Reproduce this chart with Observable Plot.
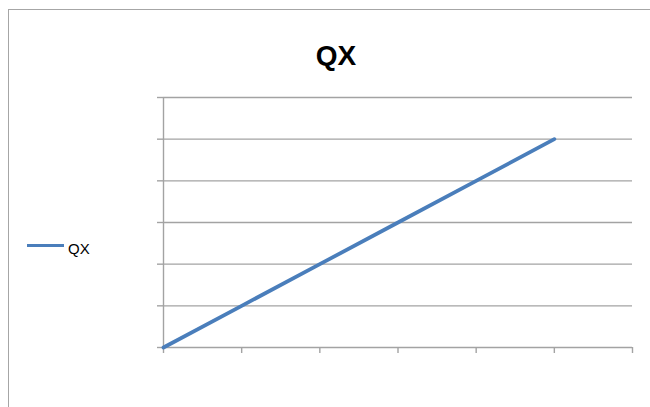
<!DOCTYPE html>
<html>
<head>
<meta charset="utf-8">
<script src="https://cdn.jsdelivr.net/npm/d3@7"></script>
<script src="https://cdn.jsdelivr.net/npm/@observablehq/plot@0.6"></script>
<style>
  html, body { margin: 0; padding: 0; background: #fff; overflow: hidden; }
  #wrap { position: relative; width: 650px; height: 407px; font-family: "Liberation Sans", Arial, sans-serif; }
  #frame { position: absolute; left: 8px; top: 9px; width: 660px; height: 420px; border: 1.5px solid #a6a6a6; box-sizing: border-box; }
  #title { position: absolute; left: 0; width: 672px; text-align: center; top: 38px; font-size: 28px; font-weight: bold; color: #000; line-height: 36px; }
  #legend { position: absolute; left: 27px; top: 240px; display: flex; align-items: center; font-size: 15px; color: #000; }
  #legend .sw { width: 37px; height: 3px; background: #4a7ebb; margin-right: 4px; margin-top: -6px; }
  #chart { position: absolute; left: 0; top: 0; }
</style>
</head>
<body>
<div id="wrap">
  <div id="chart"></div>
  <div id="frame"></div>
  <div id="title">QX</div>
  <div id="legend"><div class="sw"></div><span>QX</span></div>
</div>
<script>
const seriesName = "QX";
const categories = [0, 1, 2, 3, 4, 5];
const values = [0, 1, 2, 3, 4, 5];
const yTicks = [0, 1, 2, 3, 4, 5, 6];
const xTicks = [0, 1, 2, 3, 4, 5, 6];

const data = categories.map((c, i) => ({x: c, y: values[i]}));
const gridColor = "#a3a3a3";

const plot = Plot.plot({
  width: 650,
  height: 407,
  marginLeft: 163,
  marginRight: 18,
  marginTop: 97,
  marginBottom: 60,
  x: {type: "linear", domain: [0, 6], axis: null},
  y: {type: "linear", domain: [0, 6], axis: null},
  style: {background: "transparent", overflow: "visible"},
  marks: [
    Plot.ruleY(yTicks, {y: d => d, x1: () => 0, x2: () => 6, stroke: gridColor, strokeWidth: 1.4}),
    Plot.axisY(yTicks, {ticks: yTicks, tickSize: 6, tickFormat: () => "", stroke: gridColor, strokeWidth: 1.4, label: null}),
    Plot.ruleX([0], {x: d => d, y1: () => 0, y2: () => 6, stroke: gridColor, strokeWidth: 1.4}),
    Plot.axisX(xTicks, {ticks: xTicks, tickSize: 6, tickFormat: () => "", stroke: gridColor, strokeWidth: 1.4, label: null}),
    Plot.line(data, {x: "x", y: "y", stroke: "#4a7ebb", strokeWidth: 3.8, strokeLinecap: "round"})
  ]
});
document.getElementById("chart").appendChild(plot);
</script>
</body>
</html>
